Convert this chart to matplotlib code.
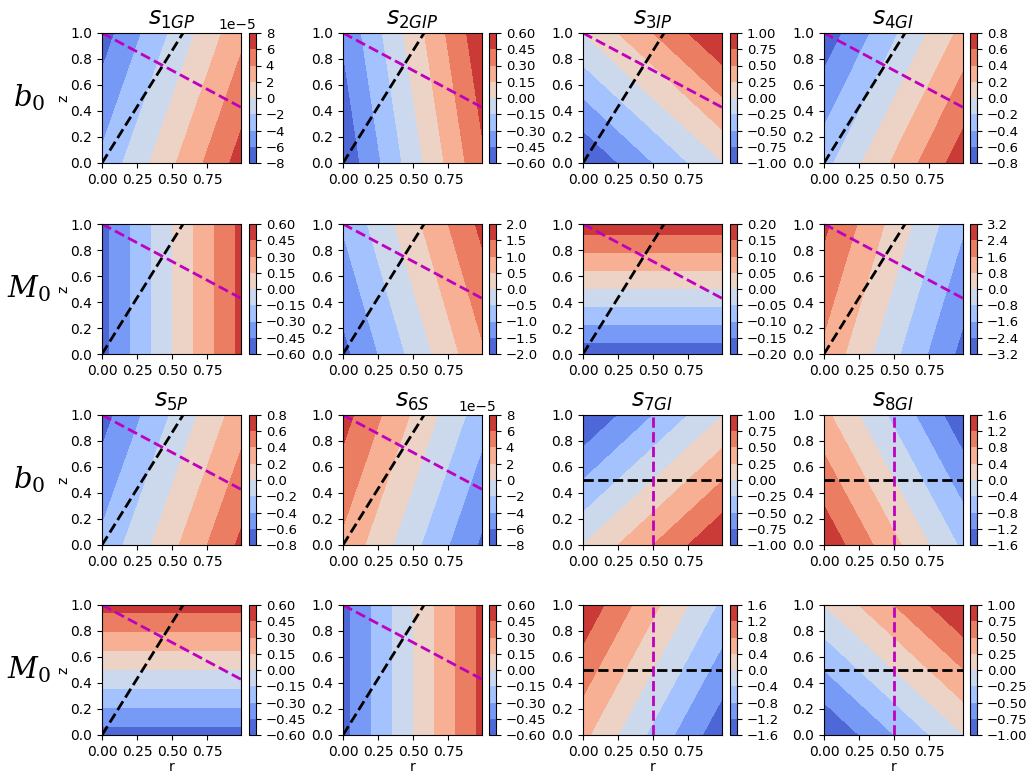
import numpy as np
import matplotlib
matplotlib.use("Agg")
import matplotlib.pyplot as plt

# panel titles (one per column, shown on rows 0 and 2)
titles_top = [r"$s_{1GP}$", r"$s_{2GIP}$", r"$s_{3IP}$", r"$s_{4GI}$"]
titles_bot = [r"$s_{5P}$", r"$s_{6S}$", r"$s_{7GI}$", r"$s_{8GI}$"]
row_labels = [r"$b_0$", r"$M_0$", r"$b_0$", r"$M_0$"]

# linear fields: f = gr*(r-0.5) + gz*(z-0.5) + c
grad_r = [[1.05e-4, 1.0, 1.0, 1.0],
          [1.0, 2.6, 0.0, -4.1],
          [1.0, -1.0e-4, 1.0, -2.0],
          [0.0, 1.0, -2.0, 1.0]]
grad_z = [[-0.34e-4, 0.14, 1.0, -0.46],
          [0.0, 0.7, 0.364, 1.15],
          [-0.33, 0.32e-4, -1.0, -1.0],
          [1.03, 0.0, 1.0, 1.0]]
offset = [[0.0, 0.0, 0.0, 0.0],
          [0.0, 0.0, 0.0, -0.06],
          [-0.015, 0.015e-4, 0.0, 0.0],
          [0.0, 0.0, 0.0, 0.0]]
# colour scale limits (8 bands between -lim and +lim)
level_max = [[8e-5, 0.6, 1.0, 0.8],
             [0.6, 2.0, 0.2, 3.2],
             [0.8, 8e-5, 1.0, 1.6],
             [0.6, 0.6, 1.6, 1.0]]

r = np.linspace(0, 0.99, 100)
z = np.linspace(0, 1, 101)
R, Z = np.meshgrid(r, z)

W, H = 1026, 773
fig = plt.figure(figsize=(W / 100, H / 100), dpi=100)

col_left = [102, 343, 583, 824]
cb_left = [249, 489, 730, 970]
row_top = [33, 224, 415, 605]
ax_w, ax_h, cb_w = 139, 130, 7

sq3 = np.sqrt(3)
for i in range(4):
    for j in range(4):
        x0 = col_left[j] / W
        y0 = 1 - (row_top[i] + ax_h) / H
        ax = fig.add_axes([x0, y0, ax_w / W, ax_h / H])
        cax = fig.add_axes([cb_left[j] / W, y0, cb_w / W, ax_h / H])
        F = grad_r[i][j] * (R - 0.5) + grad_z[i][j] * (Z - 0.5) + offset[i][j]
        m = level_max[i][j]
        lev = np.linspace(-m, m, 9)
        cs = ax.contourf(R, Z, F, levels=lev, cmap="coolwarm")
        cb = fig.colorbar(cs, cax=cax, ticks=lev)
        cb.ax.tick_params(labelsize=9.5)

        if i >= 2 and j >= 2:
            ax.axhline(0.5, color="k", ls="--", lw=2)
            ax.axvline(0.5, color="m", ls="--", lw=2)
        else:
            rr = r[r <= 1 / sq3]
            ax.plot(np.append(rr, 1 / sq3), np.append(sq3 * rr, 1.0), "k--", lw=2)
            ax.plot(r, 1 - r / sq3, "m--", lw=2)
        ax.set_xlim(0, 0.99)
        ax.set_ylim(0, 1)
        ax.set_xticks([0, 0.25, 0.5, 0.75])
        ax.set_yticks(np.arange(0, 1.01, 0.2))

        if i == 0:
            ax.set_title(titles_top[j], fontsize=17)
        if i == 2:
            ax.set_title(titles_bot[j], fontsize=17)
        if j == 0:
            ax.set_ylabel("z", labelpad=0)
        if i == 3:
            ax.set_xlabel("r", labelpad=1)

    yc = 1 - (row_top[i] + ax_h / 2) / H
    fig.text(29 / W, yc, row_labels[i], fontsize=21, ha="center", va="center",
             math_fontfamily="dejavuserif")

fig.savefig("out.png", dpi=100)
